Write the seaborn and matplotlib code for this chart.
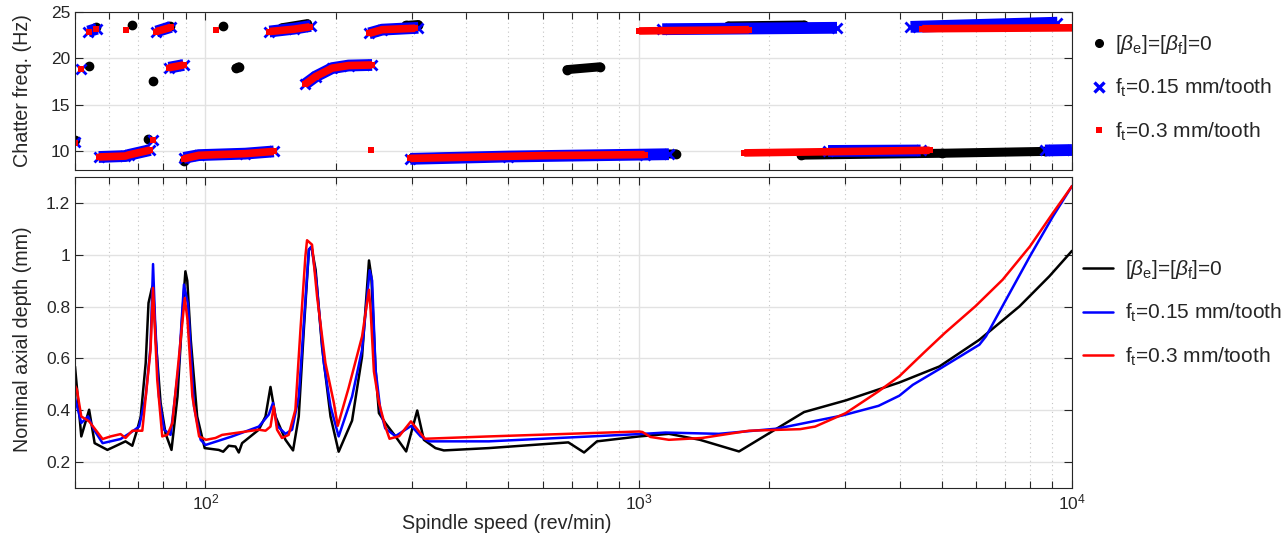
import numpy as np
import matplotlib
matplotlib.use("Agg")
import matplotlib.pyplot as plt
from matplotlib.lines import Line2D
from matplotlib.ticker import LogLocator, NullFormatter, FixedLocator
import seaborn as sns

nan = np.nan

# ---- chatter frequency (Hz) along the stability limit; NaN separates branches ----
chat_speed_zero = [50, nan, 53.8, nan, 56.0, nan, 67.7, nan, 73.6, nan, 75.7, nan,
                   65.5, nan, 83, nan, 89.3, nan, 109.8, nan, 117.6, 119.4, nan,
                   150, 172, nan, 290, 310, nan, 300, 700, 1218, nan, 683, 813, nan,
                   1610, 2408, nan, 2373, 5000, 8662]
chat_freq_zero = [11.2, nan, 19.2, nan, 23.4, nan, 23.6, nan, 11.3, nan, 17.6, nan,
                  9.55, nan, 23.5, nan, 8.95, nan, 23.5, nan, 18.95, 19.1, nan,
                  23.3, 23.75, nan, 23.55, 23.65, nan, 9.3, 9.6, 9.73, nan, 18.8, 19.1, nan,
                  23.5, 23.6, nan, 9.6, 9.8, 10.0]

chat_speed_f015 = [50, nan, 51.7, nan, 53.6, 56.2, nan, 56.7, 65.3, 66.5, 74.6, nan, 75.7, nan,
                   77, 83.3, nan, 82.3, 89.1, nan, 89.1, 96.5, 123.6, 143.8, nan,
                   140.5, 160, 175, nan, 169.5, 179.6, 196, 214, 242.5, nan,
                   238.5, 255.6, 310, nan, 297, 500, 1032, 1174, nan, 1133, 2869, nan,
                   2735, 4474, nan, 4239, 9251, nan, 8662, 10000]
chat_freq_f015 = [11.0, nan, 18.85, nan, 22.9, 23.2, nan, 9.4, 9.5, 9.62, 10.15, nan, 11.25, nan,
                  22.9, 23.4, nan, 19.0, 19.3, nan, 9.3, 9.6, 9.76, 10.0, nan,
                  22.9, 23.2, 23.5, nan, 17.2, 18.06, 18.96, 19.24, 19.3, nan,
                  22.7, 23.1, 23.3, nan, 9.2, 9.45, 9.66, 9.7, nan, 23.15, 23.3, nan,
                  10.05, 10.1, nan, 23.4, 23.85, nan, 10.1, 10.15]

chat_speed_f030 = [50, nan, 51.7, nan, 53.8, nan, 56.0, nan, 65.7, nan, 56.7, 65.3, 66.5, 74.6, nan,
                   75.7, nan, 77, 83.3, nan, 82.3, 89.1, nan, 89.1, 96.5, 105.5, 123.6, 143.8, nan,
                   105.5, nan, 140.5, 160, 174, nan, 169.5, 179.6, 196, 214, 242.5, nan,
                   240.5, nan, 238.5, 255.6, 305, nan, 297, 600, 1032, nan, 1002, 1797, nan,
                   1752, 4693, nan, 4513, 10000]
chat_freq_f030 = [10.9, nan, 18.85, nan, 22.9, nan, 23.2, nan, 23.1, nan, 9.4, 9.5, 9.62, 10.15, nan,
                  11.25, nan, 22.9, 23.35, nan, 19.0, 19.3, nan, 9.2, 9.58, 9.65, 9.76, 10.0, nan,
                  23.1, nan, 22.9, 23.15, 23.4, nan, 17.2, 18.06, 18.96, 19.24, 19.3, nan,
                  10.2, nan, 22.7, 23.1, 23.25, nan, 9.25, 9.55, 9.66, nan, 22.96, 23.1, nan,
                  9.84, 10.12, nan, 23.2, 23.3]

# ---- stability lobes: nominal axial depth limit (mm) vs spindle speed (rev/min) ----
lobe_speed_zero = [50, 51.7, 53.9, 55.5, 59.4, 65.4, 67.8, 69.6, 70.9, 72.8, 73.9, 75.2, 75.7,
                   76.8, 78.8, 80.9, 83.5, 86.2, 88.5, 89.9, 90.8, 92.5, 95.7, 99.6, 107.3,
                   109.9, 113.2, 117.3, 119.4, 121.5, 132.8, 137.6, 141.3, 145.1, 153, 159.3,
                   164.2, 168.7, 173.3, 175.7, 179.6, 185.8, 194.4, 203, 218, 229.9, 238.5,
                   241.5, 247, 251.4, 260.1, 274.6, 290.6, 308.2, 319.2, 339.5, 355, 451,
                   688, 748, 801, 1002, 1174, 1384, 1704, 2408, 3005, 3994, 4943, 6113,
                   7567, 8867, 10000]
lobe_depth_zero = [0.569, 0.299, 0.402, 0.273, 0.247, 0.28, 0.263, 0.325, 0.376, 0.582, 0.814,
                   0.87, 0.88, 0.672, 0.428, 0.31, 0.247, 0.453, 0.775, 0.936, 0.90, 0.672,
                   0.376, 0.254, 0.247, 0.24, 0.263, 0.26, 0.237, 0.273, 0.325, 0.376, 0.49,
                   0.376, 0.286, 0.245, 0.376, 0.711, 1.02, 1.03, 0.942, 0.646, 0.376, 0.24,
                   0.36, 0.608, 0.978, 0.916, 0.556, 0.389, 0.351, 0.299, 0.241, 0.399, 0.286,
                   0.254, 0.245, 0.254, 0.276, 0.237, 0.28, 0.299, 0.309, 0.286, 0.241, 0.393,
                   0.438, 0.507, 0.569, 0.672, 0.801, 0.917, 1.015]

lobe_speed_f015 = [50, 51.7, 53.6, 55.3, 57.9, 63.7, 67.8, 70.3, 72.8, 74.7, 75.7, 76.5, 78.1,
                   80.3, 83.1, 86.9, 89.2, 91.2, 94.1, 97.5, 100, 115.2, 132.8, 140, 143.2,
                   146.3, 153, 158.5, 164.2, 168.7, 173.3, 175.7, 180.2, 187.6, 194.4, 203,
                   218, 229.9, 239.3, 242.5, 247, 253.4, 260, 274.6, 298.6, 313.9, 327.9, 451,
                   1002, 1154, 1530, 2084, 2954, 3577, 3994, 4291, 4943, 6113, 6329, 7045,
                   7995, 9035, 10000]
lobe_depth_f015 = [0.447, 0.351, 0.376, 0.325, 0.273, 0.289, 0.318, 0.337, 0.453, 0.646, 0.964,
                   0.75, 0.453, 0.325, 0.305, 0.582, 0.885, 0.807, 0.415, 0.286, 0.266, 0.299,
                   0.337, 0.383, 0.428, 0.34, 0.309, 0.325, 0.453, 0.737, 1.02, 1.032, 0.904,
                   0.582, 0.415, 0.299, 0.453, 0.634, 0.94, 0.9, 0.556, 0.40, 0.33, 0.30, 0.34,
                   0.299, 0.28, 0.28, 0.308, 0.314, 0.309, 0.329, 0.38, 0.417, 0.456, 0.498,
                   0.559, 0.653, 0.685, 0.827, 0.994, 1.148, 1.265]

lobe_speed_f030 = [50, 50.5, 51.7, 53.9, 57.9, 60.4, 63.7, 65.4, 67.8, 71.5, 74.7, 75.7, 77.4,
                   79.5, 81.7, 83.9, 86.9, 89.6, 90.9, 93.3, 96.7, 100.3, 105.5, 109.3, 132.8,
                   137.6, 141.3, 143.8, 146.3, 150.2, 155.6, 161.3, 165.7, 170.1, 171.6, 176.2,
                   181, 189.2, 197.9, 202, 214, 229.9, 238.5, 240.5, 244.8, 251.4, 259.8, 266,
                   280, 298, 321, 451, 1002, 1020, 1064, 1174, 1400, 1797, 2357, 2554, 3005,
                   3577, 3994, 4564, 5086, 5983, 6919, 7995, 9035, 10000]
lobe_depth_f030 = [0.495, 0.48, 0.376, 0.357, 0.289, 0.299, 0.308, 0.293, 0.321, 0.321, 0.634,
                   0.872, 0.518, 0.299, 0.305, 0.351, 0.608, 0.833, 0.749, 0.453, 0.299, 0.286,
                   0.293, 0.305, 0.325, 0.321, 0.337, 0.415, 0.325, 0.293, 0.305, 0.402, 0.711,
                   0.994, 1.056, 1.039, 0.839, 0.582, 0.428, 0.34, 0.486, 0.685, 0.865, 0.788,
                   0.55, 0.43, 0.34, 0.29, 0.30, 0.357, 0.29, 0.299, 0.318, 0.316, 0.297, 0.286,
                   0.293, 0.321, 0.327, 0.337, 0.389, 0.473, 0.531, 0.624, 0.698, 0.801, 0.904,
                   1.032, 1.161, 1.265]

series_labels = [r"$[\beta_\mathrm{e}]$=$[\beta_\mathrm{f}]$=0",
                 r"f$_\mathrm{t}$=0.15 mm/tooth",
                 r"f$_\mathrm{t}$=0.3 mm/tooth"]
series_colors = ["#000000", "#0000ff", "#ff0000"]

sns.set_style("ticks")
plt.rcParams["font.family"] = ["Liberation Sans", "DejaVu Sans"]
plt.rcParams["mathtext.fontset"] = "custom"
plt.rcParams["mathtext.rm"] = "Liberation Sans"
plt.rcParams["mathtext.it"] = "Liberation Sans:italic"
plt.rcParams["axes.unicode_minus"] = False

TICK_FS, LABEL_FS, LEG_FS = 12.5, 14.2, 15

W, H = 1284, 539
fig = plt.figure(figsize=(W / 100, H / 100), dpi=100)
ax_f = fig.add_axes([75 / W, 1 - 170 / H, 997 / W, 158 / H])
ax_d = fig.add_axes([75 / W, 1 - 488 / H, 997 / W, 311 / H])

edge = "#262626"
for ax in (ax_f, ax_d):
    ax.set_xscale("log")
    ax.set_xlim(50, 1e4)
    ax.xaxis.set_minor_locator(LogLocator(base=10, subs=np.arange(2, 10)))
    ax.xaxis.set_minor_formatter(NullFormatter())
    ax.set_axisbelow(True)
    ax.grid(which="major", color="#e2e2e2", lw=1.0)
    ax.grid(which="minor", axis="x", color="#c4c4c4", lw=0.8, ls=(0, (1, 3)))
    ax.grid(which="minor", axis="y", visible=False)
    ax.tick_params(which="both", direction="in", top=True, right=True,
                   colors=edge, labelsize=TICK_FS, width=0.8)
    ax.tick_params(which="major", length=6)
    ax.tick_params(which="minor", length=5)
    for s in ax.spines.values():
        s.set_color(edge)
        s.set_linewidth(0.8)

# chatter frequency branches
band_styles = [
    dict(marker="o", ms=6, lw=6.5, solid_capstyle="round"),
    dict(marker="x", ms=7, mew=2.0, lw=8.5, solid_capstyle="butt"),
    dict(marker="s", ms=5, mew=0, lw=5.5, solid_capstyle="butt"),
]
chat_sets = [(chat_speed_zero, chat_freq_zero),
             (chat_speed_f015, chat_freq_f015),
             (chat_speed_f030, chat_freq_f030)]
for (sp, fr), col, st in zip(chat_sets, series_colors, band_styles):
    ax_f.plot(sp, fr, color=col, mec=col, mfc=col, **st)

ax_f.set_ylim(8, 25)
ax_f.yaxis.set_major_locator(FixedLocator([10, 15, 20, 25]))
ax_f.tick_params(labelbottom=False)
ax_f.set_ylabel("Chatter freq. (Hz)", fontsize=LABEL_FS, color=edge, va="center")
ax_f.yaxis.set_label_coords(-0.053, 0.5)

# stability lobes
lobe_sets = [(lobe_speed_zero, lobe_depth_zero),
             (lobe_speed_f015, lobe_depth_f015),
             (lobe_speed_f030, lobe_depth_f030)]
for (sp, dp), col, lab in zip(lobe_sets, series_colors, series_labels):
    sns.lineplot(x=sp, y=dp, ax=ax_d, color=col, lw=1.8, sort=False,
                 estimator=None, label=lab, legend=False)

ax_d.set_ylim(0.1, 1.3)
ax_d.yaxis.set_major_locator(FixedLocator([0.2, 0.4, 0.6, 0.8, 1.0, 1.2]))
ax_d.set_yticklabels(["0.2", "0.4", "0.6", "0.8", "1", "1.2"])
ax_d.set_ylabel("Nominal axial depth (mm)", fontsize=LABEL_FS, color=edge, va="center")
ax_d.yaxis.set_label_coords(-0.053, 0.48)
ax_d.set_xlabel("Spindle speed (rev/min)", fontsize=LABEL_FS, color=edge, va="center")
ax_d.xaxis.set_label_coords(0.433, -0.113)

# legends
mk_handles = [Line2D([], [], ls="none", marker="o", ms=5.5, color=series_colors[0]),
              Line2D([], [], ls="none", marker="x", ms=6.5, mew=2.4, color=series_colors[1]),
              Line2D([], [], ls="none", marker="s", ms=5, mew=0, color=series_colors[2])]
ax_f.legend(mk_handles, series_labels, loc="center left", bbox_to_anchor=(1.019, 0.519),
            frameon=False, fontsize=LEG_FS, handlelength=0.8, handletextpad=0.37,
            labelspacing=1.0, borderaxespad=0, borderpad=0)

ln_handles = [Line2D([], [], color=c, lw=1.8) for c in series_colors]
ax_d.legend(ln_handles, series_labels, loc="center left", bbox_to_anchor=(1.011, 0.563),
            frameon=False, fontsize=LEG_FS, handlelength=1.45, handletextpad=0.58,
            labelspacing=1.0, borderaxespad=0, borderpad=0)

fig.savefig("out.png", dpi=100)
